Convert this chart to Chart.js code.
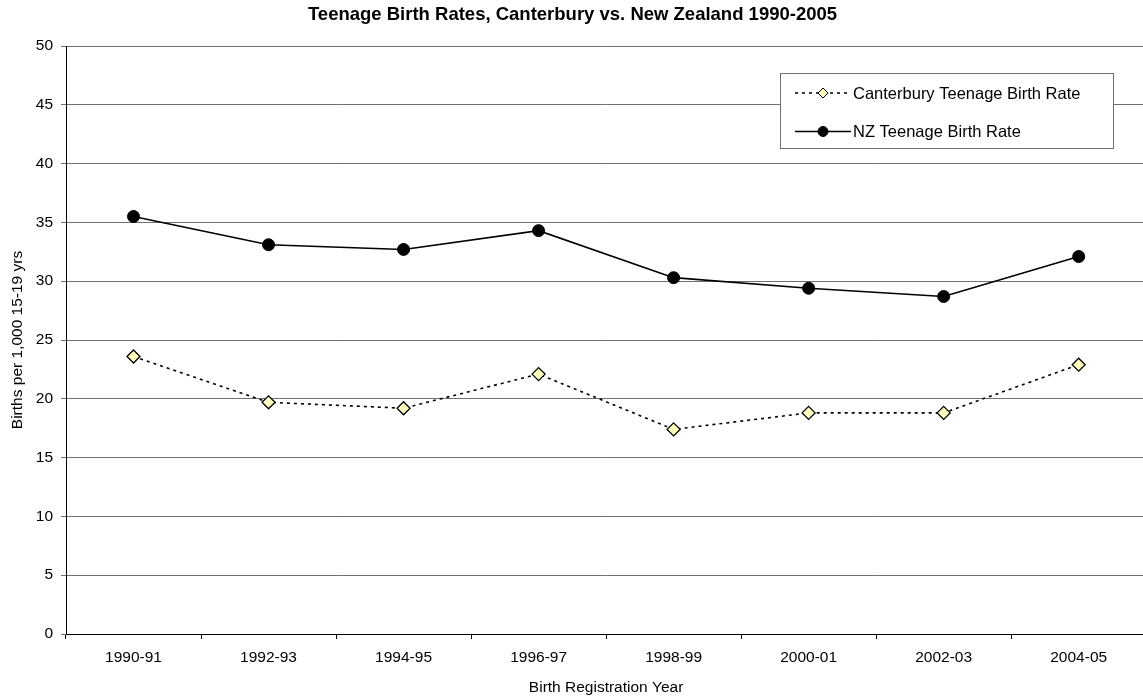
<!DOCTYPE html>
<html>
<head>
<meta charset="utf-8">
<script src="https://cdn.jsdelivr.net/npm/chart.js@4"></script>
<style>
html,body{margin:0;padding:0;background:#fff;overflow:hidden;}
#wrap{width:1154px;height:697px;position:relative;}
</style>
</head>
<body>
<div id="wrap"><canvas id="c" width="1154" height="697"></canvas></div>
<script>
const categories = ["1990-91","1992-93","1994-95","1996-97","1998-99","2000-01","2002-03","2004-05"];
const canterburyRate = [23.6, 19.7, 19.2, 22.1, 17.4, 18.8, 18.8, 22.9];
const nzRate = [35.5, 33.1, 32.7, 34.3, 30.3, 29.4, 28.7, 32.1];
const seriesNames = ["Canterbury Teenage Birth Rate", "NZ Teenage Birth Rate"];
const yTicks = [0,5,10,15,20,25,30,35,40,45,50];
const chartTitle = 'Teenage Birth Rates, Canterbury vs. New Zealand 1990-2005';

const FONT = "'Liberation Sans', Arial, sans-serif";

const titlePlugin = {
  id: 'titlePlugin',
  afterDraw(chart) {
    const ctx = chart.ctx;
    ctx.save();
    ctx.fillStyle = '#000';
    ctx.font = 'bold 18.5px ' + FONT;
    ctx.textAlign = 'center';
    ctx.textBaseline = 'middle';
    ctx.fillText(chartTitle, 572.5, 15);
    ctx.restore();
  }
};

const boxLegend = {
  id: 'boxLegend',
  afterDraw(chart) {
    const ctx = chart.ctx;
    const x0 = 780.5, y0 = 73.5, w = 333, h = 75;
    ctx.save();
    ctx.fillStyle = '#fff';
    ctx.fillRect(x0, y0, w, h);
    ctx.strokeStyle = '#707070';
    ctx.lineWidth = 1;
    ctx.strokeRect(x0, y0, w, h);
    const rows = [93, 131.5];
    chart.data.datasets.forEach((ds, i) => {
      const y = rows[i];
      ctx.strokeStyle = ds.borderColor;
      ctx.lineWidth = ds.borderWidth;
      ctx.setLineDash(ds.borderDash || []);
      ctx.beginPath();
      ctx.moveTo(795, y);
      ctx.lineTo(851, y);
      ctx.stroke();
      ctx.setLineDash([]);
      ctx.fillStyle = ds.pointBackgroundColor;
      ctx.strokeStyle = ds.pointBorderColor;
      ctx.lineWidth = 1;
      ctx.beginPath();
      if (ds.pointStyle === 'rectRot') {
        const r = 5;
        ctx.moveTo(823, y - r); ctx.lineTo(823 + r, y); ctx.lineTo(823, y + r); ctx.lineTo(823 - r, y); ctx.closePath();
      } else {
        ctx.arc(823, y, 5, 0, Math.PI * 2);
      }
      ctx.fill(); ctx.stroke();
      ctx.fillStyle = '#000';
      ctx.font = '16.5px ' + FONT;
      ctx.textBaseline = 'middle';
      ctx.textAlign = 'left';
      ctx.fillText(ds.label, 853, y + 1);
    });
    ctx.restore();
  }
};

new Chart(document.getElementById('c'), {
  type: 'line',
  data: {
    labels: categories,
    datasets: [
      {
        label: seriesNames[0],
        data: canterburyRate,
        borderColor: '#000',
        borderWidth: 1.6,
        borderDash: [3, 4],
        pointStyle: 'rectRot',
        pointRadius: 6.5,
        pointBackgroundColor: '#FFFFC0',
        pointBorderColor: '#000',
        pointBorderWidth: 1.3,
        tension: 0
      },
      {
        label: seriesNames[1],
        data: nzRate,
        borderColor: '#000',
        borderWidth: 1.6,
        pointStyle: 'circle',
        pointRadius: 6,
        pointBackgroundColor: '#000',
        pointBorderColor: '#000',
        pointBorderWidth: 1,
        tension: 0
      }
    ]
  },
  options: {
    responsive: false,
    animation: false,
    devicePixelRatio: 1,
    layout: { padding: { left: 0, right: 2, top: 46, bottom: 0 } },
    plugins: {
      legend: { display: false },
      tooltip: { enabled: false },
      title: { display: false }
    },
    scales: {
      x: {
        type: 'category',
        offset: true,
        grid: { display: true, drawOnChartArea: false, drawTicks: true, offset: true, tickLength: 5, color: '#000' },
        border: { display: true, color: '#000', width: 1 },
        ticks: { color: '#000', font: { family: FONT, size: 15.5 }, padding: 9, maxRotation: 0, autoSkip: false },
        title: { display: true, text: 'Birth Registration Year', color: '#000', font: { family: FONT, size: 15.5 }, padding: { top: 0, bottom: 0 } },
        afterFit(scale) { scale.height = 63; }
      },
      y: {
        min: 0, max: 50,
        afterBuildTicks(scale) { scale.ticks = yTicks.map(v => ({ value: v })); },
        grid: { color: '#707070', lineWidth: 1, tickLength: 5, drawTicks: true },
        border: { display: true, color: '#000', width: 1 },
        ticks: { color: '#000', font: { family: FONT, size: 15.5 }, padding: 8 },
        title: { display: true, text: 'Births per 1,000 15-19 yrs', color: '#000', font: { family: FONT, size: 15.5 }, padding: { top: 8, bottom: 0 } },
        afterFit(scale) { scale.width = 66; }
      }
    }
  },
  plugins: [titlePlugin, boxLegend]
});
</script>
</body>
</html>
